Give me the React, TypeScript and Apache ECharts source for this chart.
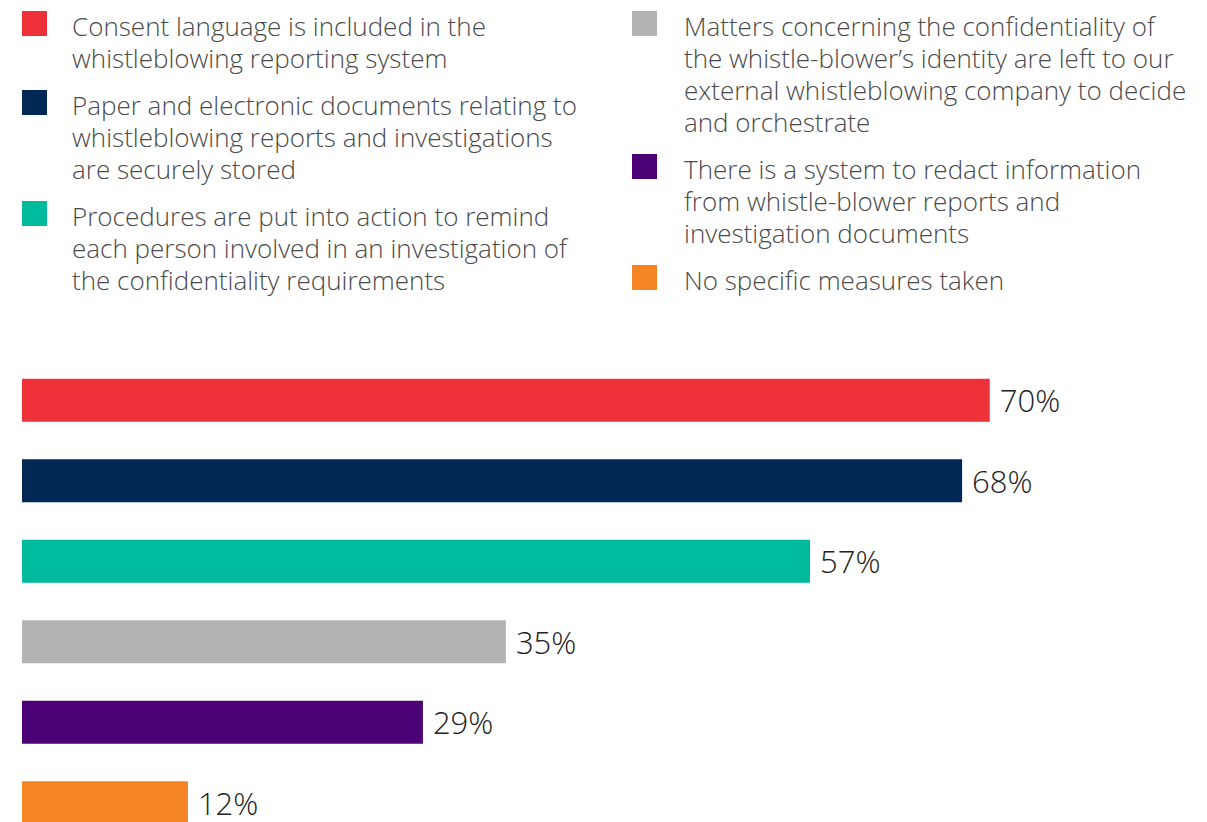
import React, { useEffect, useRef } from "react";
import * as echarts from "echarts";

const categories = [
  "Consent language is included in the whistleblowing reporting system",
  "Paper and electronic documents relating to whistleblowing reports and investigations are securely stored",
  "Procedures are put into action to remind each person involved in an investigation of the confidentiality requirements",
  "Matters concerning the confidentiality of the whistle-blower\u2019s identity are left to our external whistleblowing company to decide and orchestrate",
  "There is a system to redact information from whistle-blower reports and investigation documents",
  "No specific measures taken",
];
const values = [70, 68, 57, 35, 29, 12];
const colors = ["#EE3038", "#002856", "#00BA9D", "#B3B3B3", "#4B0075", "#F58424"];
const legendLines = [
  ["Consent language is included in the", "whistleblowing reporting system"],
  ["Paper and electronic documents relating to", "whistleblowing reports and investigations", "are securely stored"],
  ["Procedures are put into action to remind", "each person involved in an investigation of", "the confidentiality requirements"],
  ["Matters concerning the confidentiality of", "the whistle-blower\u2019s identity are left to our", "external whistleblowing company to decide", "and orchestrate"],
  ["There is a system to redact information", "from whistle-blower reports and", "investigation documents"],
  ["No specific measures taken"],
];

const FONT = "'Open Sans', 'Noto Sans', sans-serif";

export default function App() {
  const ref = useRef<HTMLDivElement>(null);
  useEffect(() => {
    if (!ref.current) return;
    const chart = echarts.init(ref.current, null, { renderer: "svg" });

    const LINE_H = 32;
    const GAP = 15;
    const columns = [
      { sqX: 22, txtX: 72, items: [0, 1, 2] },
      { sqX: 632, txtX: 684, items: [3, 4, 5] },
    ];
    const graphics: any[] = [];
    columns.forEach((col) => {
      let y = 11;
      col.items.forEach((i) => {
        graphics.push({
          type: "rect",
          shape: { x: col.sqX, y, width: 25, height: 25 },
          style: { fill: colors[i] },
          silent: true,
        });
        graphics.push({
          type: "text",
          x: col.txtX,
          y: y - 1,
          style: {
            text: legendLines[i].join("\n"),
            font: `300 26px ${FONT}`,
            fill: "#4A4A4A",
            lineHeight: LINE_H,
            verticalAlign: "top",
            align: "left",
          },
          silent: true,
        });
        y += legendLines[i].length * LINE_H + GAP;
      });
    });

    chart.setOption({
      animation: false,
      grid: { left: 22, top: 360, width: 1106, height: 483, containLabel: false },
      xAxis: { type: "value", min: 0, max: 80, show: false },
      yAxis: { type: "category", data: categories, inverse: true, show: false },
      series: [
        {
          type: "bar",
          barWidth: 43,
          data: values.map((v, i) => ({ value: v, itemStyle: { color: colors[i] } })),
          label: {
            show: true,
            position: "right",
            distance: 10,
            formatter: "{c}%",
            fontFamily: FONT,
            fontWeight: 300,
            fontSize: 31,
            color: "#222222",
          },
        },
      ],
      graphic: graphics,
    });
    return () => chart.dispose();
  }, []);
  return (
    <div style={{ position: "absolute", left: 0, top: 0, width: 1207, height: 822, overflow: "hidden", background: "#fff" }}>
      <div ref={ref} style={{ width: 1207, height: 880 }} />
    </div>
  );
}
